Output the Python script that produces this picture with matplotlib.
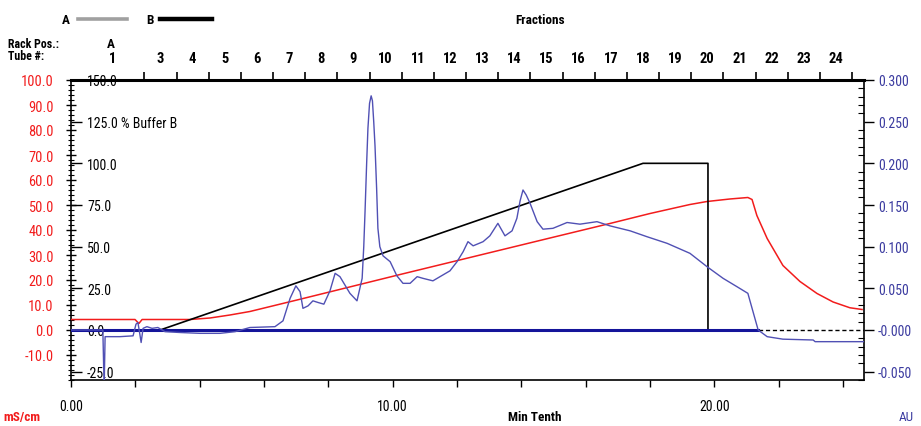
import matplotlib
matplotlib.use('Agg')
import matplotlib.pyplot as plt
from matplotlib import font_manager
from matplotlib.ticker import MultipleLocator, FixedLocator
from matplotlib.lines import Line2D

# ---------------- data ----------------
# UV absorbance trace (AU) vs time (Min Tenth)
time_uv = [0.0, 0.99, 1.03, 1.06, 1.52, 1.93, 2.02, 2.08, 2.14, 2.18, 2.24, 2.36, 2.52, 2.70,
           2.92, 3.39, 4.01, 4.63, 5.10, 5.56, 6.34, 6.59, 6.81, 6.99, 7.12, 7.21, 7.37, 7.52,
           7.68, 7.86, 8.05, 8.21, 8.36, 8.67, 8.89, 9.05, 9.10, 9.14, 9.19, 9.23, 9.28, 9.33,
           9.37, 9.41, 9.45, 9.50, 9.54, 9.60,
           9.70, 9.92, 10.13, 10.32, 10.54, 10.76, 10.94, 11.25, 11.47, 11.78, 12.00, 12.19,
           12.34, 12.50, 12.81, 13.02, 13.27, 13.49, 13.71, 13.86, 13.96, 14.05, 14.15, 14.27,
           14.49, 14.67, 14.98, 15.42, 15.82, 16.35, 16.75, 17.38, 17.90, 18.53, 19.24, 19.77,
           20.27, 20.70, 21.04, 21.20, 21.36, 21.64, 22.13, 23.07, 23.13, 24.65]
uv_au = [0.0, 0.0, -0.07, -0.008, -0.008, -0.007, 0.007, 0.009, -0.005, -0.015, 0.002, 0.004,
         0.002, 0.003, -0.002, -0.003, -0.004, -0.004, -0.002, 0.003, 0.004, 0.011, 0.038, 0.053,
         0.046, 0.026, 0.029, 0.035, 0.033, 0.031, 0.047, 0.068, 0.064, 0.044, 0.035, 0.062,
         0.100, 0.142, 0.200, 0.242, 0.272, 0.281, 0.275, 0.250, 0.221, 0.170, 0.122, 0.100,
         0.089, 0.082, 0.065, 0.056, 0.056, 0.064, 0.062, 0.059, 0.064, 0.071, 0.082, 0.094,
         0.106, 0.101, 0.106, 0.113, 0.128, 0.113, 0.119, 0.134, 0.155, 0.168, 0.162, 0.152,
         0.130, 0.121, 0.122, 0.129, 0.127, 0.130, 0.125, 0.119, 0.112, 0.104, 0.092, 0.076,
         0.062, 0.052, 0.044, 0.022, 0.0, -0.008, -0.011, -0.012, -0.014, -0.014]

# Conductivity (mS/cm)
time_cond = [0.0, 1.99, 2.11, 2.21, 3.70, 4.32, 4.94, 5.56, 7.12, 10.23, 14.89, 16.75, 18.0,
             19.24, 19.77, 20.48, 21.04, 21.17, 21.32, 21.64, 22.13, 22.66, 23.19, 23.69, 24.21, 24.59]
cond_ms = [4.2, 4.2, 2.6, 4.2, 4.2, 4.8, 6.0, 7.4, 12.3, 22.2, 36.8, 42.6, 46.6,
           50.2, 51.4, 52.4, 53.0, 52.2, 45.8, 36.6, 25.8, 19.4, 14.6, 11.2, 8.9, 8.2]

# % Buffer B gradient
time_b = [0.0, 2.77, 17.78, 19.8, 19.8]
buffer_b = [0.0, 0.0, 100.0, 100.0, 0.0]

# second UV channel flat baseline ends where main trace goes negative
baseline_end = 21.36
x_max = 24.65

# axis tick labels
cond_ticks = [-10, 0, 10, 20, 30, 40, 50, 60, 70, 80, 90, 100]
buffer_ticks = [-25, 0, 25, 50, 75, 100, 125, 150]
buffer_labels = ['-25.0', '0.0', '25.0', '50.0', '75.0', '100.0', '125.0 % Buffer B', '150.0']
au_ticks = [-0.05, 0.0, 0.05, 0.10, 0.15, 0.20, 0.25, 0.30]
au_labels = ['-0.050', '-0.000', '0.050', '0.100', '0.150', '0.200', '0.250', '0.300']
time_ticks = [0, 10, 20]
time_labels = ['0.00', '10.00', '20.00']

# fractions
tube_labels = ['1'] + [str(i) for i in range(3, 25)]
tube_centers = [1.28] + [i - 0.22 for i in range(3, 25)]
fraction_ticks = [i + 0.28 for i in range(2, 25)]

# ---------------- font selection (narrow face if available) ----------------
_fonts = [(f.name, f.stretch) for f in font_manager.fontManager.ttflist]
_names = {n for n, _ in _fonts}
SC = 1.0
if 'Liberation Sans Narrow' in _names:
    plt.rcParams['font.family'] = ['Liberation Sans Narrow', 'DejaVu Sans']
elif 'Roboto Condensed' in _names:
    plt.rcParams['font.family'] = ['Roboto Condensed', 'DejaVu Sans']
    SC = 0.95
elif any(n == 'DejaVu Sans' and s in ('condensed', 'semi-condensed') for n, s in _fonts):
    plt.rcParams['font.family'] = ['DejaVu Sans']
    plt.rcParams['font.stretch'] = 'condensed'
    SC = 0.85
else:
    plt.rcParams['font.family'] = ['Liberation Sans', 'DejaVu Sans']
    SC = 0.86

# ---------------- style ----------------
RED = '#f21c1c'
BLUE = '#5050b4'
NAVY = '#14149a'
LBLUE = '#3c3ca0'
W, H = 921, 427

fig = plt.figure(figsize=(9.21, 4.27), dpi=100)
ax = fig.add_axes([71 / W, 1 - 381 / H, (864 - 71) / W, 300 / H])
ax.set_xlim(0, x_max)
ax.set_ylim(-20, 100)
ax_b = ax.twinx()
ax_b.set_ylim(-30, 150)
ax_au = ax.twinx()
ax_au.set_ylim(-0.06, 0.30)
ax_top = ax.twiny()
ax_top.set_xlim(0, x_max)

# traces
ax.plot(time_cond, cond_ms, color=RED, lw=1.1, zorder=3)
ax_b.plot(time_b, buffer_b, color='black', lw=1.2)
ax_au.axhline(0, color='black', lw=1.0, ls=(0, (3, 2)))
ax_au.plot([0, baseline_end], [0, 0], color=NAVY, lw=2.2)
ax_au.plot(time_uv, uv_au, color=BLUE, lw=1.0)

# spines
for a in (ax_b, ax_au, ax_top):
    for s in a.spines.values():
        s.set_visible(False)
for s in ax.spines.values():
    s.set_linewidth(1.2)
ax.spines['top'].set_linewidth(2.2)

# left (conductivity) axis
ax.set_yticks(cond_ticks)
ax.set_yticklabels([f'{v:.1f}' for v in cond_ticks])
ax.yaxis.set_minor_locator(MultipleLocator(2))
ax.tick_params(axis='y', which='major', direction='inout', length=7, width=1,
               labelsize=11 * SC, labelcolor=RED, pad=9)
ax.tick_params(axis='y', which='minor', direction='inout', length=4, width=0.8)

# bottom axis
ax.set_xticks(time_ticks)
ax.set_xticklabels(time_labels)
ax.xaxis.set_minor_locator(MultipleLocator(2))
ax.tick_params(axis='x', which='both', direction='out', length=5, width=1,
               labelsize=10.5 * SC, pad=9)

# buffer B inner axis
ax_b.yaxis.set_ticks_position('left')
ax_b.set_yticks(buffer_ticks)
ax_b.set_yticklabels(buffer_labels)
ax_b.tick_params(axis='y', direction='in', length=8, width=1, labelsize=10.5 * SC, pad=-11.5)
for t in ax_b.get_yticklabels():
    t.set_horizontalalignment('left')

# right AU axis
ax_au.set_yticks(au_ticks)
ax_au.set_yticklabels(au_labels)
ax_au.yaxis.set_minor_locator(MultipleLocator(0.01))
ax_au.tick_params(axis='y', which='major', direction='out', length=7, width=1,
                  labelsize=10.5 * SC, labelcolor=LBLUE, pad=3)
ax_au.tick_params(axis='y', which='minor', direction='in', length=4, width=0.8)

# top fractions axis
ax_top.set_xticks(fraction_ticks)
ax_top.set_xticklabels([])
ax_top.xaxis.set_minor_locator(FixedLocator(tube_centers))
ax_top.set_xticklabels(tube_labels, minor=True)
ax_top.tick_params(axis='x', which='major', direction='out', length=6, width=1.2)
ax_top.tick_params(axis='x', which='minor', length=0, labelsize=11 * SC, pad=11)
for t in ax_top.get_xticklabels(minor=True):
    t.set_fontweight('bold')


def ftext(x, y, s, **kw):
    fig.text(x / W, 1 - y / H, s, va='center', **kw)


# header / legend
ftext(66, 20, 'A', ha='center', fontsize=10 * SC, fontweight='bold')
fig.add_artist(Line2D([78 / W, 127 / W], [1 - 20 / H] * 2, color='#a0a0a0', lw=2.6))
ftext(150, 20, 'B', ha='center', fontsize=10 * SC, fontweight='bold')
fig.add_artist(Line2D([160 / W, 212 / W], [1 - 20 / H] * 2, color='black', lw=3.2))
ftext(540, 20, 'Fractions', ha='center', fontsize=10 * SC, fontweight='bold')
ftext(8, 44, 'Rack Pos.:', ha='left', fontsize=9 * SC, fontweight='bold')
ftext(8, 57, 'Tube #:', ha='left', fontsize=9 * SC, fontweight='bold')
ftext(111, 44, 'A', ha='center', fontsize=10 * SC, fontweight='bold')

# axis unit labels
ftext(22, 418, 'mS/cm', ha='center', fontsize=10 * SC, color=RED, fontweight='bold')
ftext(535, 418, 'Min Tenth', ha='center', fontsize=10 * SC, fontweight='bold')
ftext(906, 418, 'AU', ha='center', fontsize=10 * SC, color=LBLUE)

fig.savefig('out.png', dpi=100)
